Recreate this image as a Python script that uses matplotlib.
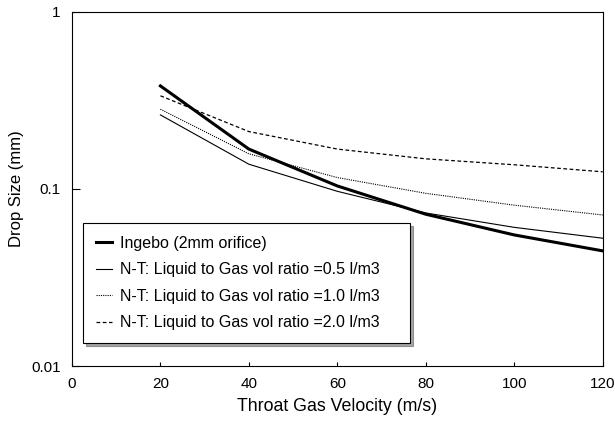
import matplotlib.pyplot as plt

plt.rcParams['font.family'] = ['Liberation Sans', 'DejaVu Sans']

velocity = [20, 40, 60, 80, 100, 120]
ingebo = [0.382, 0.168, 0.104, 0.072, 0.055, 0.0447]
nt_05 = [0.262, 0.138, 0.097, 0.0732, 0.0607, 0.0527]
nt_10 = [0.282, 0.158, 0.116, 0.0945, 0.081, 0.0713]
nt_20 = [0.336, 0.211, 0.168, 0.148, 0.137, 0.125]

labels = ["Ingebo (2mm orifice)",
          "N-T: Liquid to Gas vol ratio =0.5 l/m3",
          "N-T: Liquid to Gas vol ratio =1.0 l/m3",
          "N-T: Liquid to Gas vol ratio =2.0 l/m3"]

fig = plt.figure(figsize=(6.15, 4.22), dpi=100)
ax = fig.add_axes([0.117, 0.1327, 0.863, 0.839])

ax.plot(velocity, ingebo, color='black', lw=2.2, label=labels[0])
ax.plot(velocity, nt_05, color='black', lw=0.8, label=labels[1])
ax.plot(velocity, nt_10, color='black', lw=0.8, ls=(0, (1, 1)), label=labels[2])
ax.plot(velocity, nt_20, color='black', lw=0.9, ls=(0, (3, 2)), label=labels[3])

ax.set_yscale('log')
ax.set_xlim(0, 120)
ax.set_ylim(0.01, 1)
ax.set_xticks([0, 20, 40, 60, 80, 100, 120])
ax.set_yticks([0.01, 0.1, 1])
ax.set_yticklabels(['0.01', '0.1', '1'])
ax.minorticks_off()
ax.tick_params(axis='y', direction='in', length=6, labelsize=11, pad=8)
ax.tick_params(axis='x', direction='in', length=3, labelsize=11, pad=8)

ax.set_xlabel("Throat Gas Velocity (m/s)", fontsize=12.8, labelpad=5)
ax.set_ylabel("Drop Size (mm)", fontsize=12, labelpad=5)

# legend box stretched to the width seen in the original
leg = ax.legend(loc='lower left', bbox_to_anchor=(0.021, 0.065, 0.616, 0.3),
                mode='expand', borderaxespad=0,
                fontsize=11.5, frameon=True, fancybox=False, shadow=True,
                edgecolor='black', handlelength=1.0, handletextpad=0.5,
                labelspacing=0.72, borderpad=0.8)
leg.get_frame().set_linewidth(0.8)

plt.savefig("out.png", dpi=100)
